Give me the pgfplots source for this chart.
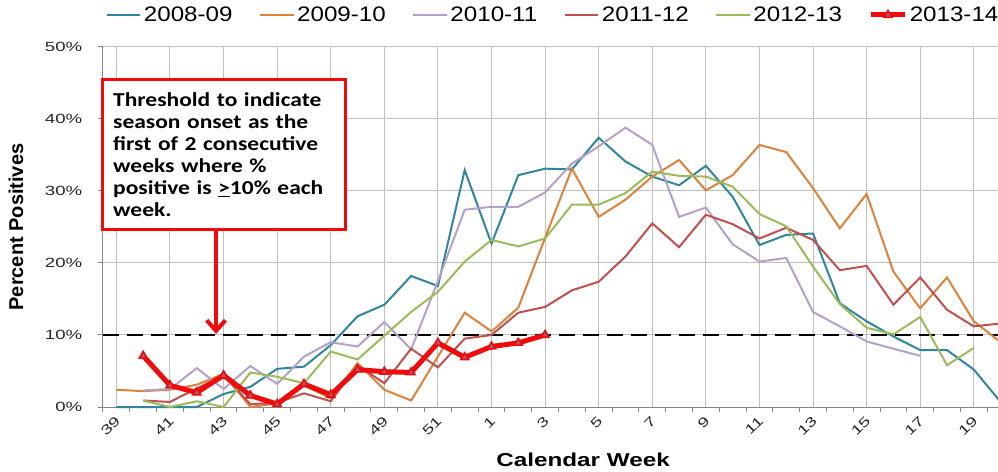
\documentclass[border=0pt]{standalone}
\usepackage{fontspec}
\setmainfont{Liberation Sans}
\newfontfamily\legfont[FakeStretch=1.15]{Liberation Sans}
\newfontfamily\tickfont[FakeStretch=1.4]{Liberation Sans}
\newfontfamily\xlabfont[FakeStretch=1.3]{Liberation Sans}
\newfontfamily\boxfont[FakeStretch=1.19]{Carlito}
\usepackage{pgfplots}
\pgfplotsset{compat=1.18}
\usetikzlibrary{arrows.meta}

\definecolor{cA}{RGB}{49,133,156}
\definecolor{cB}{RGB}{220,130,60}
\definecolor{cC}{RGB}{179,162,199}
\definecolor{cD}{RGB}{192,80,77}
\definecolor{cE}{RGB}{155,187,89}
\definecolor{cF}{RGB}{240,10,10}
\definecolor{mk}{RGB}{165,90,125}
\definecolor{axgray}{RGB}{134,134,134}
\definecolor{grid}{RGB}{200,200,200}

% x = category index: 0 = week 39 ... 13 = week 52, 14 = week 1 ... 33 = week 20
\begin{document}
\begin{tikzpicture}
\begin{axis}[
    name=ax,
    scale only axis,
    width=683.25bp, height=270bp,
    xmin=-0.5, xmax=33.5, ymin=0, ymax=50,
    clip=false,
    axis x line*=bottom, axis y line*=left,
    axis line style={axgray, line width=0.75bp},
    xtick={0,2,...,32},
    xticklabels={39,41,43,45,47,49,51,1,3,5,7,9,11,13,15,17,19},
    minor xtick={-0.5,0.5,...,33.5},
    major x tick style={draw=none},
    minor x tick style={axgray, line width=0.75bp},
    ytick={0,10,...,50},
    y tick style={axgray, line width=0.75bp},
    tick align=outside,
    major tick length=4bp, minor tick length=4bp,
    /pgf/number format/assume math mode=true,
    yticklabel={\pgfmathprintnumber{\tick}\%},
    ymajorgrids,
    grid style={grid, line width=0.75bp},
    tick label style={font=\tickfont\fontsize{10bp}{12bp}\selectfont, text=black!85},
    xticklabel style={rotate=45, anchor=east, yshift=-4bp, xshift=1bp},
    yticklabel style={xshift=-8bp},
    ylabel={Percent Positives},
    ylabel style={at={(axis description cs:-0.0955,0.5)}, anchor=center,
        font=\bfseries\fontsize{15bp}{17bp}\selectfont},
    xlabel={Calendar Week},
    xlabel style={at={(axis description cs:0.527,-0.147)}, anchor=center,
        font=\xlabfont\bfseries\fontsize{14bp}{16bp}\selectfont},
    legend columns=-1,
    legend style={at={(axis description cs:0.4945,1.089)}, anchor=center,
        draw=none, fill=none,
        font=\legfont\fontsize{15.75bp}{18bp}\selectfont,
        nodes={inner sep=2bp},
        /tikz/every even column/.append style={column sep=18bp}},
    legend image code/.code={\draw[mark repeat=2,mark phase=2,#1]
        plot coordinates {(0bp,0bp) (12.5bp,0bp) (25bp,0bp)};},
]

\addplot[forget plot, black, line width=1.5bp, dash pattern=on 12bp off 6bp]
    coordinates {(-0.5,10) (33.5,10)};

% 2008-09
\addplot[cA, line width=1.5bp] coordinates {
(0,0) (1,0) (2,0) (3,0) (4,1.8) (5,2.8) (6,5.3) (7,5.6) (8,8.6) (9,12.6)
(10,14.2) (11,18.2) (12,16.8) (13,32.9) (14,22.7) (15,32.2) (16,33.1) (17,33.0)
(18,37.4) (19,34.1) (20,32.0) (21,30.8) (22,33.5) (23,29.2) (24,22.5) (25,23.9)
(26,24.1) (27,14.4) (28,11.9) (29,9.8) (30,7.9) (31,7.9) (32,5.2) (33,0.7)};

% 2009-10
\addplot[cB, line width=1.5bp] coordinates {
(0,2.4) (1,2.2) (2,2.4) (3,3.1) (4,4.6) (5,0) (6,0.5) (7,3.0) (8,1.2) (9,6.1)
(10,2.4) (11,0.9) (12,7.0) (13,13.1) (14,10.5) (15,13.8) (16,23.5) (17,33.1)
(18,26.4) (19,28.8) (20,32.0) (21,34.3) (22,30.1) (23,32.2) (24,36.4) (25,35.4)
(26,30.4) (27,24.8) (28,29.6) (29,18.8) (30,13.7) (31,18.0) (32,11.9) (33,9.0)};

% 2010-11
\addplot[cC, line width=1.5bp] coordinates {
(1,2.3) (2,2.5) (3,5.4) (4,2.5) (5,5.7) (6,3.2) (7,7.0) (8,9.0) (9,8.4)
(10,11.8) (11,8.0) (12,17.5) (13,27.4) (14,27.8) (15,27.8) (16,29.8) (17,33.8)
(18,36.2) (19,38.8) (20,36.4) (21,26.4) (22,27.7) (23,22.6) (24,20.2) (25,20.7)
(26,13.2) (27,11.2) (28,9.1) (29,8.1) (30,7.1)};

% 2011-12
\addplot[cD, line width=1.5bp] coordinates {
(1,0.9) (2,0.7) (3,2.6) (4,4.4) (5,0.4) (6,0.6) (7,1.9) (8,0.8) (9,5.8)
(10,3.3) (11,8.1) (12,5.5) (13,9.5) (14,10.0) (15,13.1) (16,13.9) (17,16.2)
(18,17.4) (19,20.9) (20,25.5) (21,22.2) (22,26.7) (23,25.4) (24,23.4) (25,24.9)
(26,23.2) (27,19.0) (28,19.6) (29,14.2) (30,18.0) (31,13.5) (32,11.2) (33,11.6)};

% 2012-13
\addplot[cE, line width=1.5bp] coordinates {
(1,0.9) (2,0) (3,0.8) (4,0) (5,4.8) (6,4.2) (7,3.3) (8,7.7) (9,6.6)
(10,9.9) (11,13.2) (12,16.0) (13,20.2) (14,23.2) (15,22.3) (16,23.4) (17,28.1)
(18,28.1) (19,29.7) (20,32.7) (21,32.1) (22,32.0) (23,30.6) (24,26.8) (25,25.1)
(26,19.5) (27,14.3) (28,11.0) (29,10.1) (30,12.5) (31,5.8) (32,8.2)};

% 2013-14
\addplot[cF, line width=3.75bp, mark=triangle*,
    mark options={solid, draw=cF, fill=mk, line width=1.2bp, scale=1.7}] coordinates {
(1,7.1) (2,3.0) (3,2.0) (4,4.4) (5,1.6) (6,0.4) (7,3.2) (8,1.7) (9,5.2)
(10,4.9) (11,4.8) (12,8.9) (13,6.9) (14,8.4) (15,8.9) (16,10.0)};

\legend{2008-09,2009-10,2010-11,2011-12,2012-13,2013-14}

\draw[cF, line width=3bp, -{Straight Barb[length=8bp,width=14bp]}]
    (axis cs:3.72,24.9) -- (axis cs:3.72,10.15);
\node[draw=cF, line width=2.25bp, fill=white, anchor=north west,
    text width=166bp, inner xsep=8bp, minimum height=112.5bp, align=left,
    font=\boxfont\bfseries\fontsize{14.8bp}{16.5bp}\selectfont]
    at (axis cs:-0.575,45.7)
    {Threshold to indicate\\ season onset as the\\ first of 2 consecutive\\
     weeks where \%\\ positive is \underline{>}10\% each\\ week.};
\end{axis}
\pgfresetboundingbox
\path[use as bounding box] (ax.south west) ++(-77.25bp,-48.75bp) rectangle ++(748.5bp,354bp);
\end{tikzpicture}
\end{document}
